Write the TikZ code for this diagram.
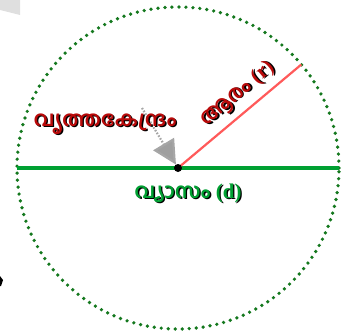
\documentclass[tikz,border=0pt]{standalone}
\usepackage{fontspec}
\newfontfamily\mlfont[Script=Malayalam]{Hind Kochi}
\newfontfamily\latfont{Liberation Serif}
\usepackage{xcolor}
\usetikzlibrary{positioning,arrows.meta}
\definecolor{rimgreen}{RGB}{20,120,30}
\definecolor{diagreen}{RGB}{0,160,50}
\definecolor{radred}{RGB}{255,90,90}
\definecolor{lblred}{RGB}{185,10,10}
\newcommand{\shtext}[2]{\makebox[0pt][l]{\raisebox{-1.3pt}{\hspace{1.3pt}\color{black}#2}}{\color{#1}#2}}
\tikzset{
rim/.style={
draw=rimgreen,
circle,
minimum size=322pt,
inner sep=0pt,
outer sep=0pt,
line width=3.7pt,
line cap=round,
dash pattern=on 0pt off 7pt
},
diameter/.style={
draw=diagreen,
line width=4.5pt
},
radius/.style={
draw=radred,
line width=2.2pt
},
pointer/.style={
draw=gray!70,
line width=2.2pt,
dash pattern=on 1.6pt off 1.6pt,
-{Triangle[length=24pt,width=24pt,fill=gray!75]},
shorten >=4pt
},
lbl/.style={
font=\mlfont\bfseries\fontsize{21}{21}\selectfont,
inner sep=1pt
}
}
\begin{document}
\begin{tikzpicture}[x=1pt,y=-1pt]
\useasboundingbox (0,0) rectangle (347,334);
% cropped fragments at the left border
\fill[gray!25] (0,0) -- (20,0) -- (20,15) -- (0,10) -- cycle;
\fill[black] (0,276) -- (3,280) -- (1,286) -- (0,286) -- cycle;
\coordinate (o) at (178,168);
\node[rim](c) at (o){};
\draw[diameter](c.west)--(c.east);
\draw[radius](o)--(c.40);
\coordinate (tail) at (142,108);
\draw[pointer](tail)--(o);
\fill[black](o) circle (4pt);
\node[lbl,rotate=40](r) at (238,95){\shtext{lblred}{ആരം {\latfont\bfseries(r)}}};
\node[lbl](k) at (105,125){\shtext{lblred}{വൃത്തകേന്ദ്രം}};
\node[lbl](d) at (188,194){\shtext{diagreen}{വ്യാസം {\latfont\bfseries(d)}}};
\end{tikzpicture}
\end{document}
